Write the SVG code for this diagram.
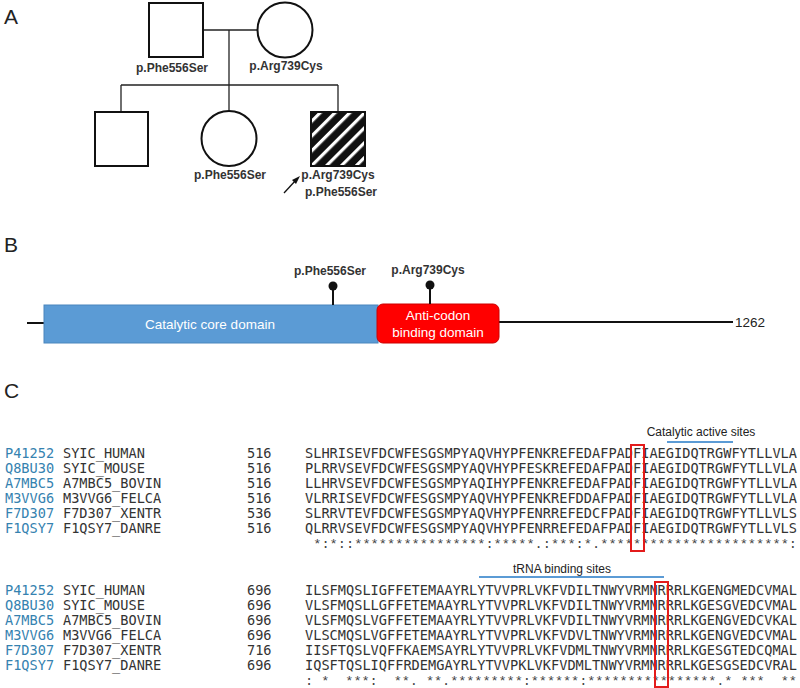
<svg xmlns="http://www.w3.org/2000/svg" width="800" height="688" viewBox="0 0 800 688">
<style>
.lbl{font-family:"Liberation Sans",Arial,sans-serif;font-size:21px;fill:#222}
.mut{font-family:"Liberation Sans",Arial,sans-serif;font-size:12px;font-weight:bold;fill:#333;text-anchor:middle}
.ped{fill:#fff;stroke:#111;stroke-width:2}
.pl{stroke:#222;stroke-width:1.3;fill:none}
.dom{font-family:"Liberation Sans",Arial,sans-serif;font-size:13.5px;fill:#fff;text-anchor:middle}
.mono{font-family:"DejaVu Sans Mono","Liberation Mono",monospace;font-size:13.6px;fill:#333;white-space:pre}
.cons{font-family:"Liberation Mono","DejaVu Sans Mono",monospace;font-size:13.6px;fill:#444;white-space:pre}
.id{fill:#3582b0}
.site{font-family:"Liberation Sans",Arial,sans-serif;font-size:12px;fill:#222;text-anchor:middle}
.bl{stroke:#5b9bd5;stroke-width:2}
.rb{fill:none;stroke:#e31b1b;stroke-width:2}
</style>
<defs>
<pattern id="hatch" patternUnits="userSpaceOnUse" width="10.5" height="10.5" patternTransform="rotate(45)">
<rect width="10.5" height="10.5" fill="#111"/>
<rect x="0" width="3.2" height="10.5" fill="#fff"/>
</pattern>
</defs>

<text class="lbl" x="4" y="24">A</text>
<text class="lbl" x="4" y="252">B</text>
<text class="lbl" x="4" y="398">C</text>

<g id="pedigree-lines">
<line class="pl" x1="203" y1="30" x2="257" y2="30"/>
<line class="pl" x1="229" y1="30" x2="229" y2="85"/>
<line class="pl" x1="121" y1="85" x2="338" y2="85"/>
<line class="pl" x1="121" y1="85" x2="121" y2="112"/>
<line class="pl" x1="229" y1="85" x2="229" y2="111"/>
<line class="pl" x1="338" y1="85" x2="338" y2="112"/>
</g>
<g id="father">
<rect class="ped" x="149" y="3" width="54" height="54"/>
<text class="mut" x="172" y="72">p.Phe556Ser</text>
</g>
<g id="mother">
<circle class="ped" cx="285" cy="30" r="27.5"/>
<text class="mut" x="286" y="70">p.Arg739Cys</text>
</g>
<g id="son1">
<rect class="ped" x="95" y="112" width="53" height="54"/>
</g>
<g id="daughter">
<circle class="ped" cx="229" cy="138.5" r="27.5"/>
<text class="mut" x="230" y="179">p.Phe556Ser</text>
</g>
<g id="proband">
<rect x="311" y="112" width="54" height="54" fill="url(#hatch)" stroke="#111" stroke-width="2"/>
<text class="mut" x="338" y="179">p.Arg739Cys</text>
<text class="mut" x="341" y="196">p.Phe556Ser</text>
<line x1="284" y1="193" x2="296" y2="180" stroke="#111" stroke-width="1.3"/>
<polygon points="300,176 292,180 296,184" fill="#111"/>
</g>

<g id="protein">
<line x1="27" y1="323" x2="44" y2="323" stroke="#111" stroke-width="2"/>
<line x1="499" y1="322" x2="733" y2="322" stroke="#111" stroke-width="2"/>
<text x="735" y="327" font-family="'Liberation Sans',Arial,sans-serif" font-size="13.5" fill="#222">1262</text>
</g>
<g id="catalytic">
<rect x="44" y="305" width="334" height="38" fill="#5b9bd5" stroke="#4a86bd" stroke-width="1"/>
<text class="dom" x="210" y="329">Catalytic core domain</text>
</g>
<g id="anticodon">
<rect x="377" y="304" width="122" height="39" rx="6" fill="#f00" stroke="#c00" stroke-width="1"/>
<text class="dom" x="438" y="320">Anti-codon</text>
<text class="dom" x="438" y="337">binding domain</text>
</g>
<g id="mut-phe">
<line x1="333" y1="286" x2="333" y2="305" stroke="#111" stroke-width="2"/>
<circle cx="333" cy="286" r="4.5" fill="#111"/>
<text class="mut" x="330" y="275">p.Phe556Ser</text>
</g>
<g id="mut-arg">
<line x1="430" y1="285" x2="430" y2="304" stroke="#111" stroke-width="2"/>
<circle cx="430" cy="285" r="4.5" fill="#111"/>
<text class="mut" x="428" y="274">p.Arg739Cys</text>
</g>

<g id="align1">
<text class="site" x="701" y="436">Catalytic active sites</text>
<line class="bl" x1="667" y1="442" x2="733" y2="442"/>
<g>
<text x="5" y="458" class="mono id">P41252</text><text x="63" y="458" class="mono">SYIC_HUMAN</text><text x="247" y="458" class="mono">516</text><text x="305" y="458" class="mono" textLength="492">SLHRISEVFDCWFESGSMPYAQVHYPFENKREFEDAFPADFIAEGIDQTRGWFYTLLVLA</text>
<text x="5" y="473" class="mono id">Q8BU30</text><text x="63" y="473" class="mono">SYIC_MOUSE</text><text x="247" y="473" class="mono">516</text><text x="305" y="473" class="mono" textLength="492">PLRRVSEVFDCWFESGSMPYAQVHYPFESKREFEDAFPADFIAEGIDQTRGWFYTLLVLA</text>
<text x="5" y="488" class="mono id">A7MBC5</text><text x="63" y="488" class="mono">A7MBC5_BOVIN</text><text x="247" y="488" class="mono">516</text><text x="305" y="488" class="mono" textLength="492">LLHRVSEVFDCWFESGSMPYAQIHYPFENKREFEDAFPADFIAEGIDQTRGWFYTLLVLA</text>
<text x="5" y="503" class="mono id">M3VVG6</text><text x="63" y="503" class="mono">M3VVG6_FELCA</text><text x="247" y="503" class="mono">516</text><text x="305" y="503" class="mono" textLength="492">VLRRISEVFDCWFESGSMPYAQVHYPFENKREFDDAFPADFIAEGIDQTRGWFYTLLVLA</text>
<text x="5" y="518" class="mono id">F7D307</text><text x="63" y="518" class="mono">F7D307_XENTR</text><text x="247" y="518" class="mono">536</text><text x="305" y="518" class="mono" textLength="492">SLRRVTEVFDCWFESGSMPYAQVHYPFENRREFEDCFPADFIAEGIDQTRGWFYTLLVLS</text>
<text x="5" y="533" class="mono id">F1QSY7</text><text x="63" y="533" class="mono">F1QSY7_DANRE</text><text x="247" y="533" class="mono">516</text><text x="305" y="533" class="mono" textLength="492">QLRRVSEVFDCWFESGSMPYAQVHYPFENRREFEDAFPADFIAEGIDQTRGWFYTLLVLS</text>
<text x="305" y="548" class="cons" textLength="492" xml:space="preserve"> *:*::****************:*****.:***:*.***********************:</text>
</g>
<rect class="rb" x="631" y="445" width="13" height="106"/>
</g>

<g id="align2">
<text class="site" x="562" y="573">tRNA binding sites</text>
<line class="bl" x1="479" y1="577" x2="664" y2="577"/>
<g>
<text x="5" y="595" class="mono id">P41252</text><text x="63" y="595" class="mono">SYIC_HUMAN</text><text x="247" y="595" class="mono">696</text><text x="305" y="595" class="mono" textLength="492">ILSFMQSLIGFFETEMAAYRLYTVVPRLVKFVDILTNWYVRMNRRRLKGENGMEDCVMAL</text>
<text x="5" y="610" class="mono id">Q8BU30</text><text x="63" y="610" class="mono">SYIC_MOUSE</text><text x="247" y="610" class="mono">696</text><text x="305" y="610" class="mono" textLength="492">VLSFMQSLLGFFETEMAAYRLYTVVPRLVKFVDILTNWYVRMNRRRLKGESGVEDCVMAL</text>
<text x="5" y="625" class="mono id">A7MBC5</text><text x="63" y="625" class="mono">A7MBC5_BOVIN</text><text x="247" y="625" class="mono">696</text><text x="305" y="625" class="mono" textLength="492">VLSFMQSLVGFFETEMAAYRLYTVVPRLVKFVDILTNWYVRMNRRRLKGENGVEDCVKAL</text>
<text x="5" y="640" class="mono id">M3VVG6</text><text x="63" y="640" class="mono">M3VVG6_FELCA</text><text x="247" y="640" class="mono">696</text><text x="305" y="640" class="mono" textLength="492">VLSCMQSLVGFFETEMAAYRLYTVVPRLVKFVDVLTNWYVRMNRRRLKGENGVEDCVMAL</text>
<text x="5" y="655" class="mono id">F7D307</text><text x="63" y="655" class="mono">F7D307_XENTR</text><text x="247" y="655" class="mono">716</text><text x="305" y="655" class="mono" textLength="492">IISFTQSLVQFFKAEMSAYRLYTVVPRLVKFVDMLTNWYVRMNRRRLKGESGTEDCQMAL</text>
<text x="5" y="670" class="mono id">F1QSY7</text><text x="63" y="670" class="mono">F1QSY7_DANRE</text><text x="247" y="670" class="mono">696</text><text x="305" y="670" class="mono" textLength="492">IQSFTQSLIQFFRDEMGAYRLYTVVPKLVKFVDMLTNWYVRMNRRRLKGESGSEDCVRAL</text>
<text x="305" y="685" class="cons" textLength="492" xml:space="preserve">: *  ***:  **. **.*********:******:****************.* ***  **</text>
</g>
<rect class="rb" x="655" y="582" width="13" height="105"/>
</g>
</svg>
